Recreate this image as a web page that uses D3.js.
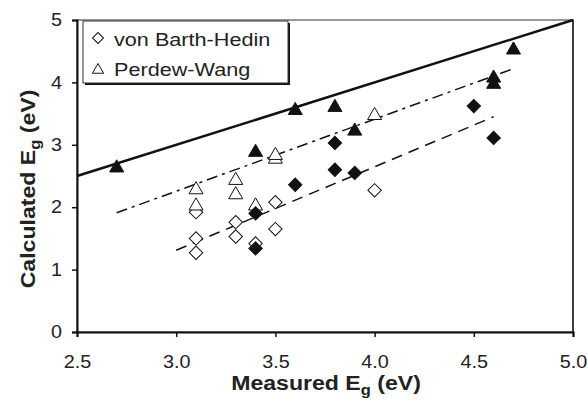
<!DOCTYPE html>
<html>
<head>
<meta charset="utf-8">
<script src="https://cdn.jsdelivr.net/npm/d3@7"></script>
<style>
  body { margin: 0; background: #fff; }
  text { font-family: "Liberation Sans", Arial, sans-serif; }
</style>
</head>
<body>
<svg id="chart" width="588" height="402"></svg>
<script>
// measured vs calculated gaps
var vbhOpenX = [3.1, 3.1, 3.1, 3.3, 3.3, 3.4, 3.5, 3.5, 4.0];
var vbhOpenY = [1.92, 1.50, 1.27, 1.76, 1.53, 1.42, 2.08, 1.65, 2.27];
var pwOpenX = [3.1, 3.1, 3.3, 3.3, 3.4, 3.5, 3.5, 4.0];
var pwOpenY = [2.28, 2.02, 2.43, 2.20, 2.02, 2.77, 2.83, 3.47];
var diamFilledX = [3.4, 3.4, 3.6, 3.8, 3.8, 3.9, 4.5, 4.6];
var diamFilledY = [1.90, 1.34, 2.36, 3.03, 2.60, 2.55, 3.62, 3.11];
var triFilledX = [2.7, 3.4, 3.6, 3.8, 3.9, 4.6, 4.6, 4.7];
var triFilledY = [2.63, 2.88, 3.55, 3.60, 3.22, 4.07, 3.97, 4.52];

// lines: y = x, and two trend lines
var idealLine = [[2.5, 2.5], [5.0, 5.0]];
var pwTrend = [[2.7, 1.91], [4.7, 4.22]];
var vbhTrend = [[3.0, 1.31], [4.6, 3.45]];

var xTicks = [2.5, 3.0, 3.5, 4.0, 4.5, 5.0];
var yTicks = [0, 1, 2, 3, 4, 5];
var legendNames = ["von Barth-Hedin", "Perdew-Wang"];

var svg = d3.select("#chart");
var margin = {left: 77, right: 15, top: 20, bottom: 70};
var W = 588, H = 402;
var stretch = 1.1; // text in the picture is a bit wide

var x = d3.scaleLinear().domain([2.5, 5.0]).range([margin.left, W - margin.right]);
var y = d3.scaleLinear().domain([0, 5]).range([H - margin.bottom, margin.top]);

//plot frame
svg.append("rect")
	.attr("x", x(2.5)).attr("y", y(5))
	.attr("width", x(5) - x(2.5)).attr("height", y(0) - y(5))
	.attr("fill", "none").attr("stroke", "#777").attr("stroke-width", 1.5);
svg.append("line")
	.attr("x1", x(5)).attr("x2", x(5)).attr("y1", y(5)).attr("y2", y(0))
	.attr("stroke", "#222").attr("stroke-width", 1.5);

//axes
var xAxis = svg.append("g")
	.attr("transform", "translate(0," + y(0) + ")")
	.call(d3.axisBottom(x).tickValues(xTicks).tickFormat(d3.format(".1f")).tickSize(5).tickPadding(18));
var yAxis = svg.append("g")
	.attr("transform", "translate(" + x(2.5) + ",0)")
	.call(d3.axisLeft(y).tickValues(yTicks).tickFormat(d3.format("d")).tickSize(5).tickPadding(10));
[xAxis, yAxis].forEach(function(a) {
	a.select(".domain").attr("stroke", "#111").attr("stroke-width", 2);
	a.selectAll(".tick line").attr("stroke", "#111").attr("stroke-width", 1.5);
	a.selectAll(".tick text").attr("font-size", 18).attr("fill", "#222")
		.style("font-family", "'Liberation Sans', Arial, sans-serif");
});
xAxis.selectAll(".tick text").attr("transform", "scale(" + stretch + ",1)");
yAxis.selectAll(".tick text").attr("x", -15 / stretch).attr("transform", "scale(" + stretch + ",1)");

//lines
var lineGen = d3.line().x(function(d) { return x(d[0]); }).y(function(d) { return y(d[1]); });
svg.append("path").attr("d", lineGen(idealLine))
	.attr("stroke", "#111").attr("stroke-width", 2.5).attr("fill", "none");
svg.append("path").attr("d", lineGen(pwTrend))
	.attr("stroke", "#111").attr("stroke-width", 1.5).attr("fill", "none")
	.attr("stroke-dasharray", "11,5,3,5");
svg.append("path").attr("d", lineGen(vbhTrend))
	.attr("stroke", "#111").attr("stroke-width", 1.5).attr("fill", "none")
	.attr("stroke-dasharray", "11,7");

//markers
var diamond = d3.symbol().type(d3.symbolSquare).size(90);
var triangle = d3.symbol().type(d3.symbolTriangle).size(85);

function drawPoints(xs, ys, sym, fill, rot) {
	svg.append("g").selectAll("path")
		.data(xs.map(function(v, i) { return [v, ys[i]]; }))
		.enter()
		.append("path")
		.attr("d", sym)
		.attr("transform", function(d) {
			return "translate(" + x(d[0]) + "," + y(d[1]) + ") rotate(" + rot + ")";
		})
		.attr("fill", fill)
		.attr("stroke", "#111")
		.attr("stroke-width", 1);
}
drawPoints(vbhOpenX, vbhOpenY, diamond, "#fff", 45);
drawPoints(pwOpenX, pwOpenY, triangle, "#fff", 0);
drawPoints(diamFilledX, diamFilledY, diamond, "#111", 45);
drawPoints(triFilledX, triFilledY, triangle, "#111", 0);

//legend
var lg = svg.append("g");
lg.append("rect").attr("x", 85).attr("y", 23).attr("width", 205).attr("height", 62).attr("fill", "#111");
lg.append("rect").attr("x", 83).attr("y", 21).attr("width", 205).attr("height", 62)
	.attr("fill", "#fff").attr("stroke", "#333").attr("stroke-width", 1);
var legSyms = [d3.symbol().type(d3.symbolSquare).size(60), d3.symbol().type(d3.symbolTriangle).size(55)];
var legY = [38, 70];
var legBase = [46, 76];
legendNames.forEach(function(name, i) {
	lg.append("path").attr("d", legSyms[i])
		.attr("transform", "translate(98," + legY[i] + ") rotate(" + (i == 0 ? 45 : 0) + ")")
		.attr("fill", "#fff").attr("stroke", "#111").attr("stroke-width", 1);
	lg.append("text").attr("transform", "translate(114," + legBase[i] + ") scale(1.17,1)")
		.attr("font-size", 18.5).attr("fill", "#222").text(name);
});

//axis titles
var xt = svg.append("text").attr("transform", "translate(326,390) scale(" + stretch + ",1)")
	.attr("text-anchor", "middle").attr("font-size", 21).attr("font-weight", "bold").attr("fill", "#222");
xt.append("tspan").text("Measured E");
xt.append("tspan").attr("font-size", 15).attr("dy", 5).text("g");
xt.append("tspan").attr("dy", -5).text(" (eV)");

var yt = svg.append("text").attr("transform", "translate(35,189) rotate(-90) scale(" + stretch + ",1)")
	.attr("text-anchor", "middle").attr("font-size", 21).attr("font-weight", "bold").attr("fill", "#222");
yt.append("tspan").text("Calculated E");
yt.append("tspan").attr("font-size", 15).attr("dy", 5).text("g");
yt.append("tspan").attr("dy", -5).text(" (eV)");
</script>
</body>
</html>
